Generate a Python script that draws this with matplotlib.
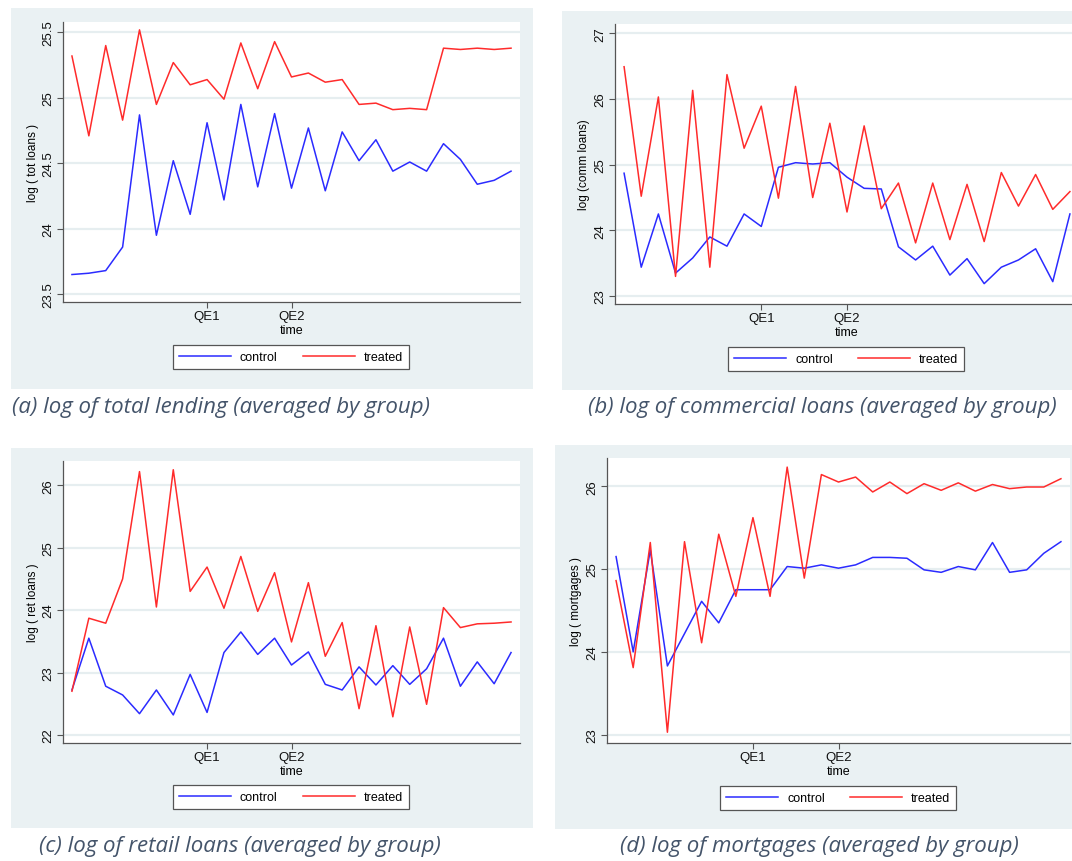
import matplotlib
matplotlib.use("Agg")
import matplotlib.pyplot as plt
from matplotlib.patches import Rectangle
import numpy as np

# ------------------------------------------------------------------
# Group averages per period (27 periods), control vs treated banks
# ------------------------------------------------------------------
periods = np.arange(27)
qe_ticks = [8, 13]
qe_labels = ["QE1", "QE2"]

tot_control = [23.65, 23.66, 23.68, 23.86, 24.87, 23.95, 24.52, 24.11, 24.81,
               24.22, 24.95, 24.32, 24.88, 24.31, 24.77, 24.29, 24.74, 24.52,
               24.68, 24.44, 24.51, 24.44, 24.65, 24.53, 24.34, 24.37, 24.44]
tot_treated = [25.32, 24.71, 25.40, 24.83, 25.52, 24.95, 25.27, 25.10, 25.14,
               24.99, 25.42, 25.07, 25.43, 25.16, 25.19, 25.12, 25.14, 24.95,
               24.96, 24.91, 24.92, 24.91, 25.38, 25.37, 25.38, 25.37, 25.38]

comm_control = [24.87, 23.44, 24.25, 23.35, 23.58, 23.90, 23.76, 24.25, 24.06,
                24.96, 25.03, 25.01, 25.03, 24.81, 24.64, 24.63, 23.75, 23.55,
                23.76, 23.32, 23.57, 23.19, 23.44, 23.55, 23.72, 23.22, 24.25]
comm_treated = [26.49, 24.52, 26.03, 23.30, 26.13, 23.44, 26.37, 25.25, 25.89,
                24.49, 26.19, 24.50, 25.63, 24.28, 25.59, 24.33, 24.72, 23.81,
                24.72, 23.86, 24.70, 23.83, 24.88, 24.37, 24.85, 24.32, 24.59]

ret_control = [22.72, 23.55, 22.78, 22.64, 22.34, 22.72, 22.32, 22.97, 22.36,
               23.32, 23.65, 23.29, 23.55, 23.12, 23.33, 22.81, 22.72, 23.09,
               22.80, 23.11, 22.81, 23.06, 23.55, 22.78, 23.17, 22.82, 23.32]
ret_treated = [22.70, 23.87, 23.79, 24.50, 26.22, 24.05, 26.25, 24.30, 24.69,
               24.03, 24.86, 23.98, 24.60, 23.49, 24.44, 23.26, 23.80, 22.42,
               23.75, 22.29, 23.73, 22.49, 24.04, 23.72, 23.78, 23.79, 23.81]

mort_control = [25.15, 24.00, 25.23, 23.83, 24.22, 24.61, 24.35, 24.75, 24.75,
                24.75, 25.03, 25.01, 25.05, 25.01, 25.05, 25.14, 25.14, 25.13,
                24.99, 24.96, 25.03, 24.99, 25.32, 24.96, 24.99, 25.19, 25.33]
mort_treated = [24.86, 23.81, 25.32, 23.03, 25.33, 24.11, 25.42, 24.67, 25.62,
                24.67, 26.23, 24.89, 26.14, 26.05, 26.11, 25.93, 26.05, 25.91,
                26.03, 25.95, 26.04, 25.94, 26.02, 25.97, 25.99, 25.99, 26.09]

W, H = 1072, 862
BG = "#eaf1f3"
GRID = "#e6eef0"
BLUE = "#2b2bff"
RED = "#ff2b2b"
CAPTION = "#44546a"


def box(x0, y0, x1, y1):
    # pixel box (top-left origin) -> figure fraction [left, bottom, width, height]
    return [x0 / W, 1 - y1 / H, (x1 - x0) / W, (y1 - y0) / H]


panels = [
    dict(control=tot_control, treated=tot_treated, ylabel="log ( tot loans )",
         yticks=[23.5, 24, 24.5, 25, 25.5], yticklabels=["23.5", "24", "24.5", "25", "25.5"],
         ylim=(23.44, 25.58), bg=(11, 9, 533, 390), ax=(63, 23, 520, 303),
         leg=(291, 358), cap=(12, 407),
         caption="(a) log of total lending (averaged by group)"),
    dict(control=comm_control, treated=comm_treated, ylabel="log (comm loans)",
         yticks=[23, 24, 25, 26, 27], yticklabels=["23", "24", "25", "26", "27"],
         ylim=(22.88, 27.14), bg=(562, 12, 1100, 391), ax=(615, 25, 1079, 305),
         leg=(846, 360), cap=(588, 407),
         caption="(b) log of commercial loans (averaged by group)"),
    dict(control=ret_control, treated=ret_treated, ylabel="log ( ret loans )",
         yticks=[22, 23, 24, 25, 26], yticklabels=["22", "23", "24", "25", "26"],
         ylim=(21.87, 26.39), bg=(11, 449, 533, 829), ax=(63, 462, 520, 744),
         leg=(291, 798), cap=(39, 847),
         caption="(c) log of retail loans (averaged by group)"),
    dict(control=mort_control, treated=mort_treated, ylabel="log ( mortgages )",
         yticks=[23, 24, 25, 26], yticklabels=["23", "24", "25", "26"],
         ylim=(22.90, 26.34), bg=(555, 446, 1100, 830), ax=(607, 459, 1070, 744),
         leg=(838, 799), cap=(620, 847),
         caption="(d) log of mortgages (averaged by group)"),
]

plt.rcParams["font.family"] = ["Liberation Sans", "DejaVu Sans"]

fig = plt.figure(figsize=(W / 100, H / 100), dpi=100)
fig.patch.set_facecolor("white")

for p in panels:
    # light graph region behind each panel
    l, b, w, h = box(*p["bg"])
    fig.patches.append(Rectangle((l, b), w, h, transform=fig.transFigure,
                                 facecolor=BG, edgecolor="none", zorder=-10))

    ax = fig.add_axes(box(*p["ax"]))
    ax.set_facecolor("white")
    ax.plot(periods, p["control"], color=BLUE, lw=1.1, label="control")
    ax.plot(periods, p["treated"], color=RED, lw=1.1, label="treated")

    ax.set_xlim(-0.53, 26.53)
    ax.set_ylim(*p["ylim"])
    ax.set_xticks(qe_ticks)
    ax.set_xticklabels(qe_labels, fontsize=9.5)
    ax.set_yticks(p["yticks"])
    ax.set_yticklabels(p["yticklabels"], fontsize=9.5, rotation=90, va="center")
    ax.tick_params(axis="both", length=4, width=0.8, color="#555555", pad=2,
                   labelcolor="#111111")
    ax.set_xlabel("time", fontsize=9, labelpad=1)
    ax.set_ylabel(p["ylabel"], fontsize=8.5, labelpad=3)

    ax.grid(axis="y", color=GRID, lw=1.6)
    ax.set_axisbelow(True)
    for side in ("top", "right"):
        ax.spines[side].set_visible(False)
    for side in ("left", "bottom"):
        ax.spines[side].set_color("#555555")
        ax.spines[side].set_linewidth(0.9)

    cx, cy = p["leg"]
    leg = ax.legend(loc="center", bbox_to_anchor=(cx / W, 1 - cy / H),
                    bbox_transform=fig.transFigure, ncol=2, fontsize=9,
                    handlelength=4.2, handletextpad=0.7, columnspacing=2.0,
                    borderpad=0.45, fancybox=False, framealpha=1,
                    edgecolor="#555555")
    leg.get_frame().set_linewidth(0.9)

    fx, fy = p["cap"]
    fig.text(fx / W, 1 - fy / H, p["caption"], ha="left", va="center",
             fontsize=16, style="italic", color=CAPTION,
             family=["Open Sans", "DejaVu Sans"])

fig.savefig("out.png", dpi=100)
